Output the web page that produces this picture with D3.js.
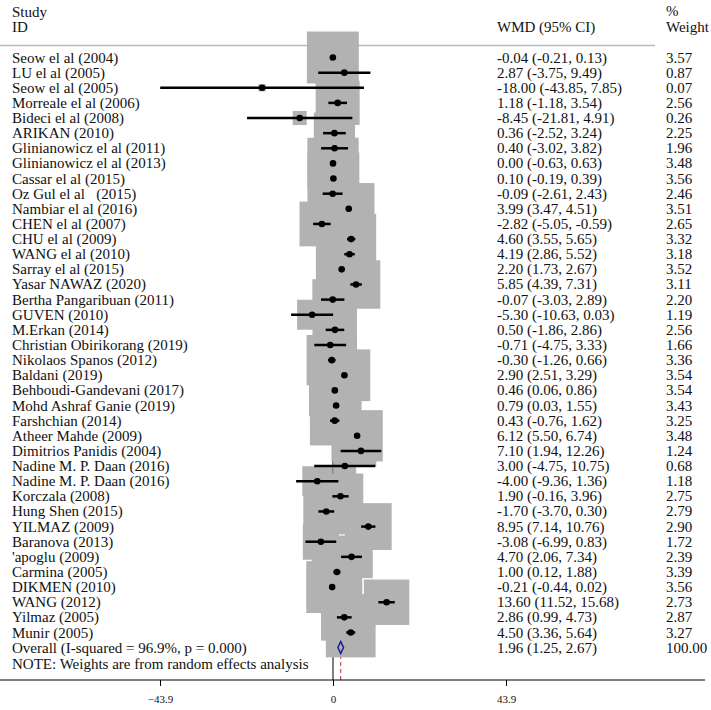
<!DOCTYPE html>
<html><head><meta charset="utf-8">
<script src="https://cdn.jsdelivr.net/npm/d3@7"></script>
<style>body{margin:0;background:#fff}svg{display:block}text{font-family:"Liberation Serif","Times New Roman",serif;fill:#111}</style>
</head><body>
<script>
const studies = ["Seow el al (2004)","LU el al (2005)","Seow el al (2005)","Morreale el al (2006)","Bideci el al (2008)","ARIKAN (2010)","Glinianowicz el al (2011)","Glinianowicz el al (2013)","Cassar el al (2015)","Oz Gul el al\u00a0\u00a0 (2015)","Nambiar el al (2016)","CHEN el al (2007)","CHU el al (2009)","WANG el al (2010)","Sarray el al (2015)","Yasar NAWAZ (2020)","Bertha Pangaribuan (2011)","GUVEN (2010)","M.Erkan (2014)","Christian Obirikorang (2019)","Nikolaos Spanos (2012)","Baldani (2019)","Behboudi-Gandevani (2017)","Mohd Ashraf Ganie (2019)","Farshchian (2014)","Atheer Mahde (2009)","Dimitrios Panidis (2004)","Nadine M. P. Daan (2016)","Nadine M. P. Daan (2016)","Korczala (2008)","Hung Shen (2015)","YILMAZ (2009)","Baranova (2013)","'apoglu (2009)","Carmina (2005)","DIKMEN (2010)","WANG (2012)","Yilmaz (2005)","Munir (2005)"];
const wmd = [-0.04,2.87,-18.00,1.18,-8.45,0.36,0.40,0.00,0.10,-0.09,3.99,-2.82,4.60,4.19,2.20,5.85,-0.07,-5.30,0.50,-0.71,-0.30,2.90,0.46,0.79,0.43,6.12,7.10,3.00,-4.00,1.90,-1.70,8.95,-3.08,4.70,1.00,-0.21,13.60,2.86,4.50];
const lower = [-0.21,-3.75,-43.85,-1.18,-21.81,-2.52,-3.02,-0.63,-0.19,-2.61,3.47,-5.05,3.55,2.86,1.73,4.39,-3.03,-10.63,-1.86,-4.75,-1.26,2.51,0.06,0.03,-0.76,5.50,1.94,-4.75,-9.36,-0.16,-3.70,7.14,-6.99,2.06,0.12,-0.44,11.52,0.99,3.36];
const upper = [0.13,9.49,7.85,3.54,4.91,3.24,3.82,0.63,0.39,2.43,4.51,-0.59,5.65,5.52,2.67,7.31,2.89,0.03,2.86,3.33,0.66,3.29,0.86,1.55,1.62,6.74,12.26,10.75,1.36,3.96,0.30,10.76,0.83,7.34,1.88,0.02,15.68,4.73,5.64];
const weight = [3.57,0.87,0.07,2.56,0.26,2.25,1.96,3.48,3.56,2.46,3.51,2.65,3.32,3.18,3.52,3.11,2.20,1.19,2.56,1.66,3.36,3.54,3.54,3.43,3.25,3.48,1.24,0.68,1.18,2.75,2.79,2.90,1.72,2.39,3.39,3.56,2.73,2.87,3.27];
const overall = {label:"Overall  (I-squared = 96.9%, p = 0.000)", est:1.96, lo:1.25, hi:2.67, w:"100.00"};
const ticks = [-43.9, 0, 43.9];

const W=711,H=710;
const svg=d3.select("body").append("svg").attr("width",W).attr("height",H);
const x=d3.scaleLinear().domain([-43.9,43.9]).range([160,506]);
const y=d3.scaleLinear().domain([0,studies.length-1]).range([57.5,632.5]);
const yOv=647.5, axisY=680;
const fs=15;
const fmt=v=>v.toFixed(2);
const k=27.5;

// header
svg.append("text").attr("x",12).attr("y",17).attr("font-size",fs).text("Study");
svg.append("text").attr("x",12).attr("y",32).attr("font-size",fs).text("ID");
svg.append("text").attr("x",497).attr("y",32).attr("font-size",fs).text("WMD (95% CI)");
svg.append("text").attr("x",666).attr("y",16).attr("font-size",fs).text("%");
svg.append("text").attr("x",666).attr("y",32).attr("font-size",fs).text("Weight");
svg.append("line").attr("x1",0).attr("x2",655).attr("y1",45.5).attr("y2",45.5).attr("stroke","#bbb").attr("stroke-width",1.5);

// null line and overall dashed line
svg.append("line").attr("x1",x(0)).attr("x2",x(0)).attr("y1",32).attr("y2",axisY).attr("stroke","#000").attr("stroke-width",1);
svg.append("line").attr("x1",x(overall.est)).attr("x2",x(overall.est)).attr("y1",32).attr("y2",axisY).attr("stroke","#b03030").attr("stroke-width",1).attr("stroke-dasharray","4,3");

// boxes
svg.append("g").selectAll("rect").data(wmd).join("rect")
  .attr("x",(d,i)=>x(d)-k*Math.sqrt(weight[i])/2)
  .attr("y",(d,i)=>y(i)-k*Math.sqrt(weight[i])/2)
  .attr("width",(d,i)=>k*Math.sqrt(weight[i]))
  .attr("height",(d,i)=>k*Math.sqrt(weight[i]))
  .attr("fill","#b2b2b2");

// CIs
svg.append("g").selectAll("line").data(wmd).join("line")
  .attr("x1",(d,i)=>x(lower[i])).attr("x2",(d,i)=>x(upper[i]))
  .attr("y1",(d,i)=>y(i)).attr("y2",(d,i)=>y(i))
  .attr("stroke","#000").attr("stroke-width",2.5);
svg.append("g").selectAll("circle").data(wmd).join("circle")
  .attr("cx",d=>x(d)).attr("cy",(d,i)=>y(i)).attr("r",3.3).attr("fill","#000");

// diamond
const dh=6;
svg.append("path").attr("d",`M${x(overall.lo)},${yOv}L${x(overall.est)},${yOv-dh}L${x(overall.hi)},${yOv}L${x(overall.est)},${yOv+dh}Z`)
  .attr("fill","none").attr("stroke","#1a1a90").attr("stroke-width",1.5);

// labels
const tg=svg.append("g").attr("font-size",fs);
studies.forEach((s,i)=>{
  const yy=y(i)+5;
  tg.append("text").attr("x",12).attr("y",yy).text(s);
  tg.append("text").attr("x",497).attr("y",yy).text(`${fmt(wmd[i])} (${fmt(lower[i])}, ${fmt(upper[i])})`);
  tg.append("text").attr("x",666).attr("y",yy).text(fmt(weight[i]));
});
tg.append("text").attr("x",12).attr("y",yOv+5).text(overall.label);
tg.append("text").attr("x",497).attr("y",yOv+5).text(`${fmt(overall.est)} (${fmt(overall.lo)}, ${fmt(overall.hi)})`);
tg.append("text").attr("x",666).attr("y",yOv+5).text(overall.w);
tg.append("text").attr("x",12).attr("y",669).text("NOTE: Weights are from random effects analysis");

// axis
svg.append("line").attr("x1",0).attr("x2",705).attr("y1",axisY).attr("y2",axisY).attr("stroke","#000").attr("stroke-width",1);
const ax=d3.axisBottom(x).tickValues(ticks).tickSize(6).tickFormat(d=>d===0?"0":d3.format(".1f")(d));
const axg=svg.append("g").attr("transform",`translate(0,${axisY})`).call(ax);
axg.select(".domain").remove();
axg.selectAll(".tick line").attr("stroke","#000");
axg.selectAll(".tick text").attr("font-family","Liberation Serif").attr("font-size",11).attr("dy","1.3em").attr("fill","#111");
</script>
</body></html>
